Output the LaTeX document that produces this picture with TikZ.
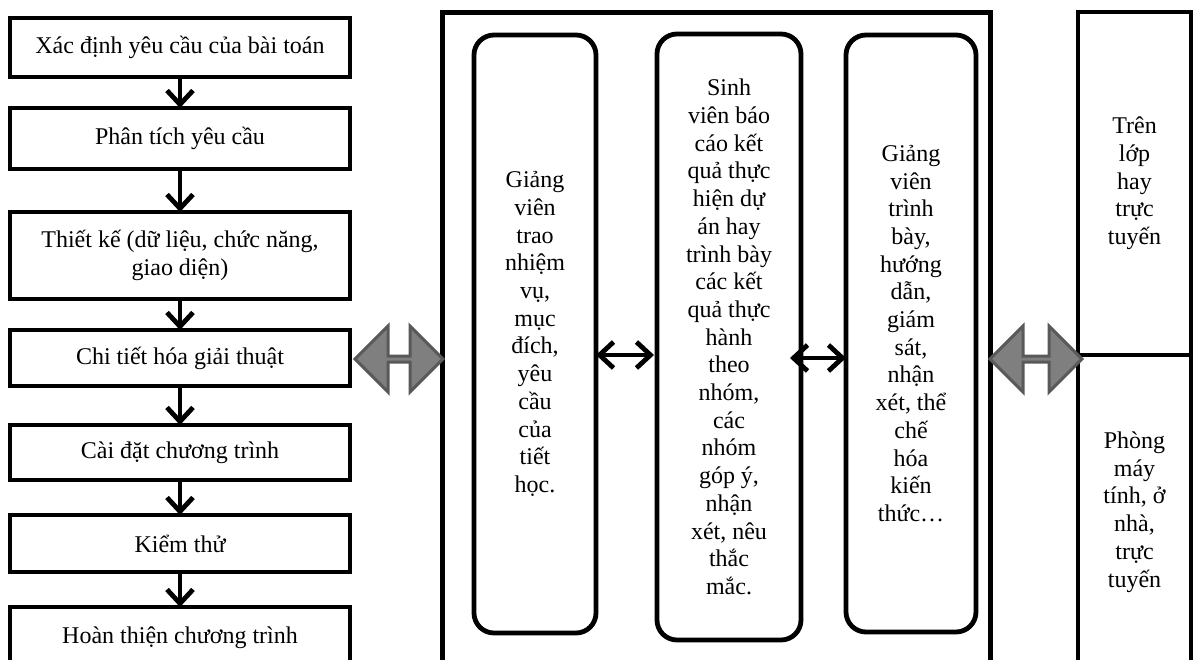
\documentclass[tikz,border=0pt]{standalone}
\usepackage{fontspec}
\setmainfont{Liberation Serif}
\usetikzlibrary{shapes.arrows,arrows.meta}

\definecolor{midgrey}{HTML}{7F7F7F}
\definecolor{darkgrey}{HTML}{595959}

\begin{document}
\begin{tikzpicture}[x=0.5pt,y=-0.5pt,line width=2.4pt,>={Straight Barb[length=7pt,width=13pt]},
    txt/.style={align=center,font=\fontsize{12}{13.85}\selectfont},
    task/.style={txt,draw,rectangle,line width=2.3pt,minimum width=170pt,outer sep=0pt},
    pill/.style={txt,draw,rectangle,rounded corners=10pt,line width=2.4pt,outer sep=0pt},
    cell/.style={txt,draw,rectangle,line width=2.4pt,minimum width=56.5pt,outer sep=0pt},
    link/.style={double arrow,draw=darkgrey,fill=midgrey,line width=1.5pt,inner sep=0pt,outer sep=0pt,
                 minimum width=33pt,double arrow head extend=7.5pt}]
        \useasboundingbox (0,0) rectangle (1194,659);
        \clip (0,0) rectangle (1194,659);

        % left column: steps of the work
        \node[task,minimum height=29.5pt] (s1) at (180,47.5) {Xác định yêu cầu của bài toán};
        \node[task,minimum height=30.5pt] (s2) at (180,138.5) {Phân tích yêu cầu};
        \node[task,minimum height=43.5pt] (s3) at (180,255.5) {Thiết kế (dữ liệu, chức năng,\\giao diện)};
        \node[task,minimum height=28pt] (s4) at (180,358) {Chi tiết hóa giải thuật};
        \node[task,minimum height=27.5pt] (s5) at (180,452.5) {Cài đặt chương trình};
        \node[task,minimum height=28.5pt] (s6) at (180,543.5) {Kiểm thử};
        \node[task,minimum height=31pt] (s7) at (180,638) {Hoàn thiện chương trình};

        \path[->] (s1) edge (s2)
                  (s2) edge (s3)
                  (s3) edge (s4)
                  (s4) edge (s5)
                  (s5) edge (s6)
                  (s6) edge (s7);

        % middle frame with the three activities
        \node[draw,line width=2.5pt,minimum width=274pt,minimum height=333.75pt,outer sep=0pt] (lesson) at (716,346.25) {};

        \node[pill,minimum width=61pt,minimum height=299pt] (p1) at (535,334)
            {Giảng\\viên\\trao\\nhiệm\\vụ,\\mục\\đích,\\yêu\\cầu\\của\\tiết\\học.};
        \node[pill,minimum width=72pt,minimum height=303pt] (p2) at (729,337)
            {Sinh\\viên báo\\cáo kết\\quả thực\\hiện dự\\án hay\\trình bày\\các kết\\quả thực\\hành\\theo\\nhóm,\\các\\nhóm\\góp ý,\\nhận\\xét, nêu\\thắc\\mắc.};
        \node[pill,minimum width=65pt,minimum height=298.5pt] (p3) at (911,333.5)
            {Giảng\\viên\\trình\\bày,\\hướng\\dẫn,\\giám\\sát,\\nhận\\xét, thể\\chế\\hóa\\kiến\\thức…};

        \draw[<->] ([yshift=-10.5pt]p1.east) -- ([xshift=-1.5pt,yshift=-9pt]p2.west);
        \draw[<->] ([xshift=-5.5pt,yshift=-10.5pt]p2.east) -- ([yshift=-12.25pt]p3.west);

        % right column: places
        \node[cell,minimum height=171.5pt] (c1) at (1134.5,183.5) {Trên\\lớp\\hay\\trực\\tuyến};
        \node[cell,minimum height=157pt] (c2) at (1134.5,512) {Phòng\\máy\\tính, ở\\nhà,\\trực\\tuyến};

        % links between the three parts
        \node[link,minimum height=44pt] (l1) at (399,359) {};
        \node[link,minimum height=46pt] (l2) at (1036,359) {};
    \end{tikzpicture}
\end{document}
